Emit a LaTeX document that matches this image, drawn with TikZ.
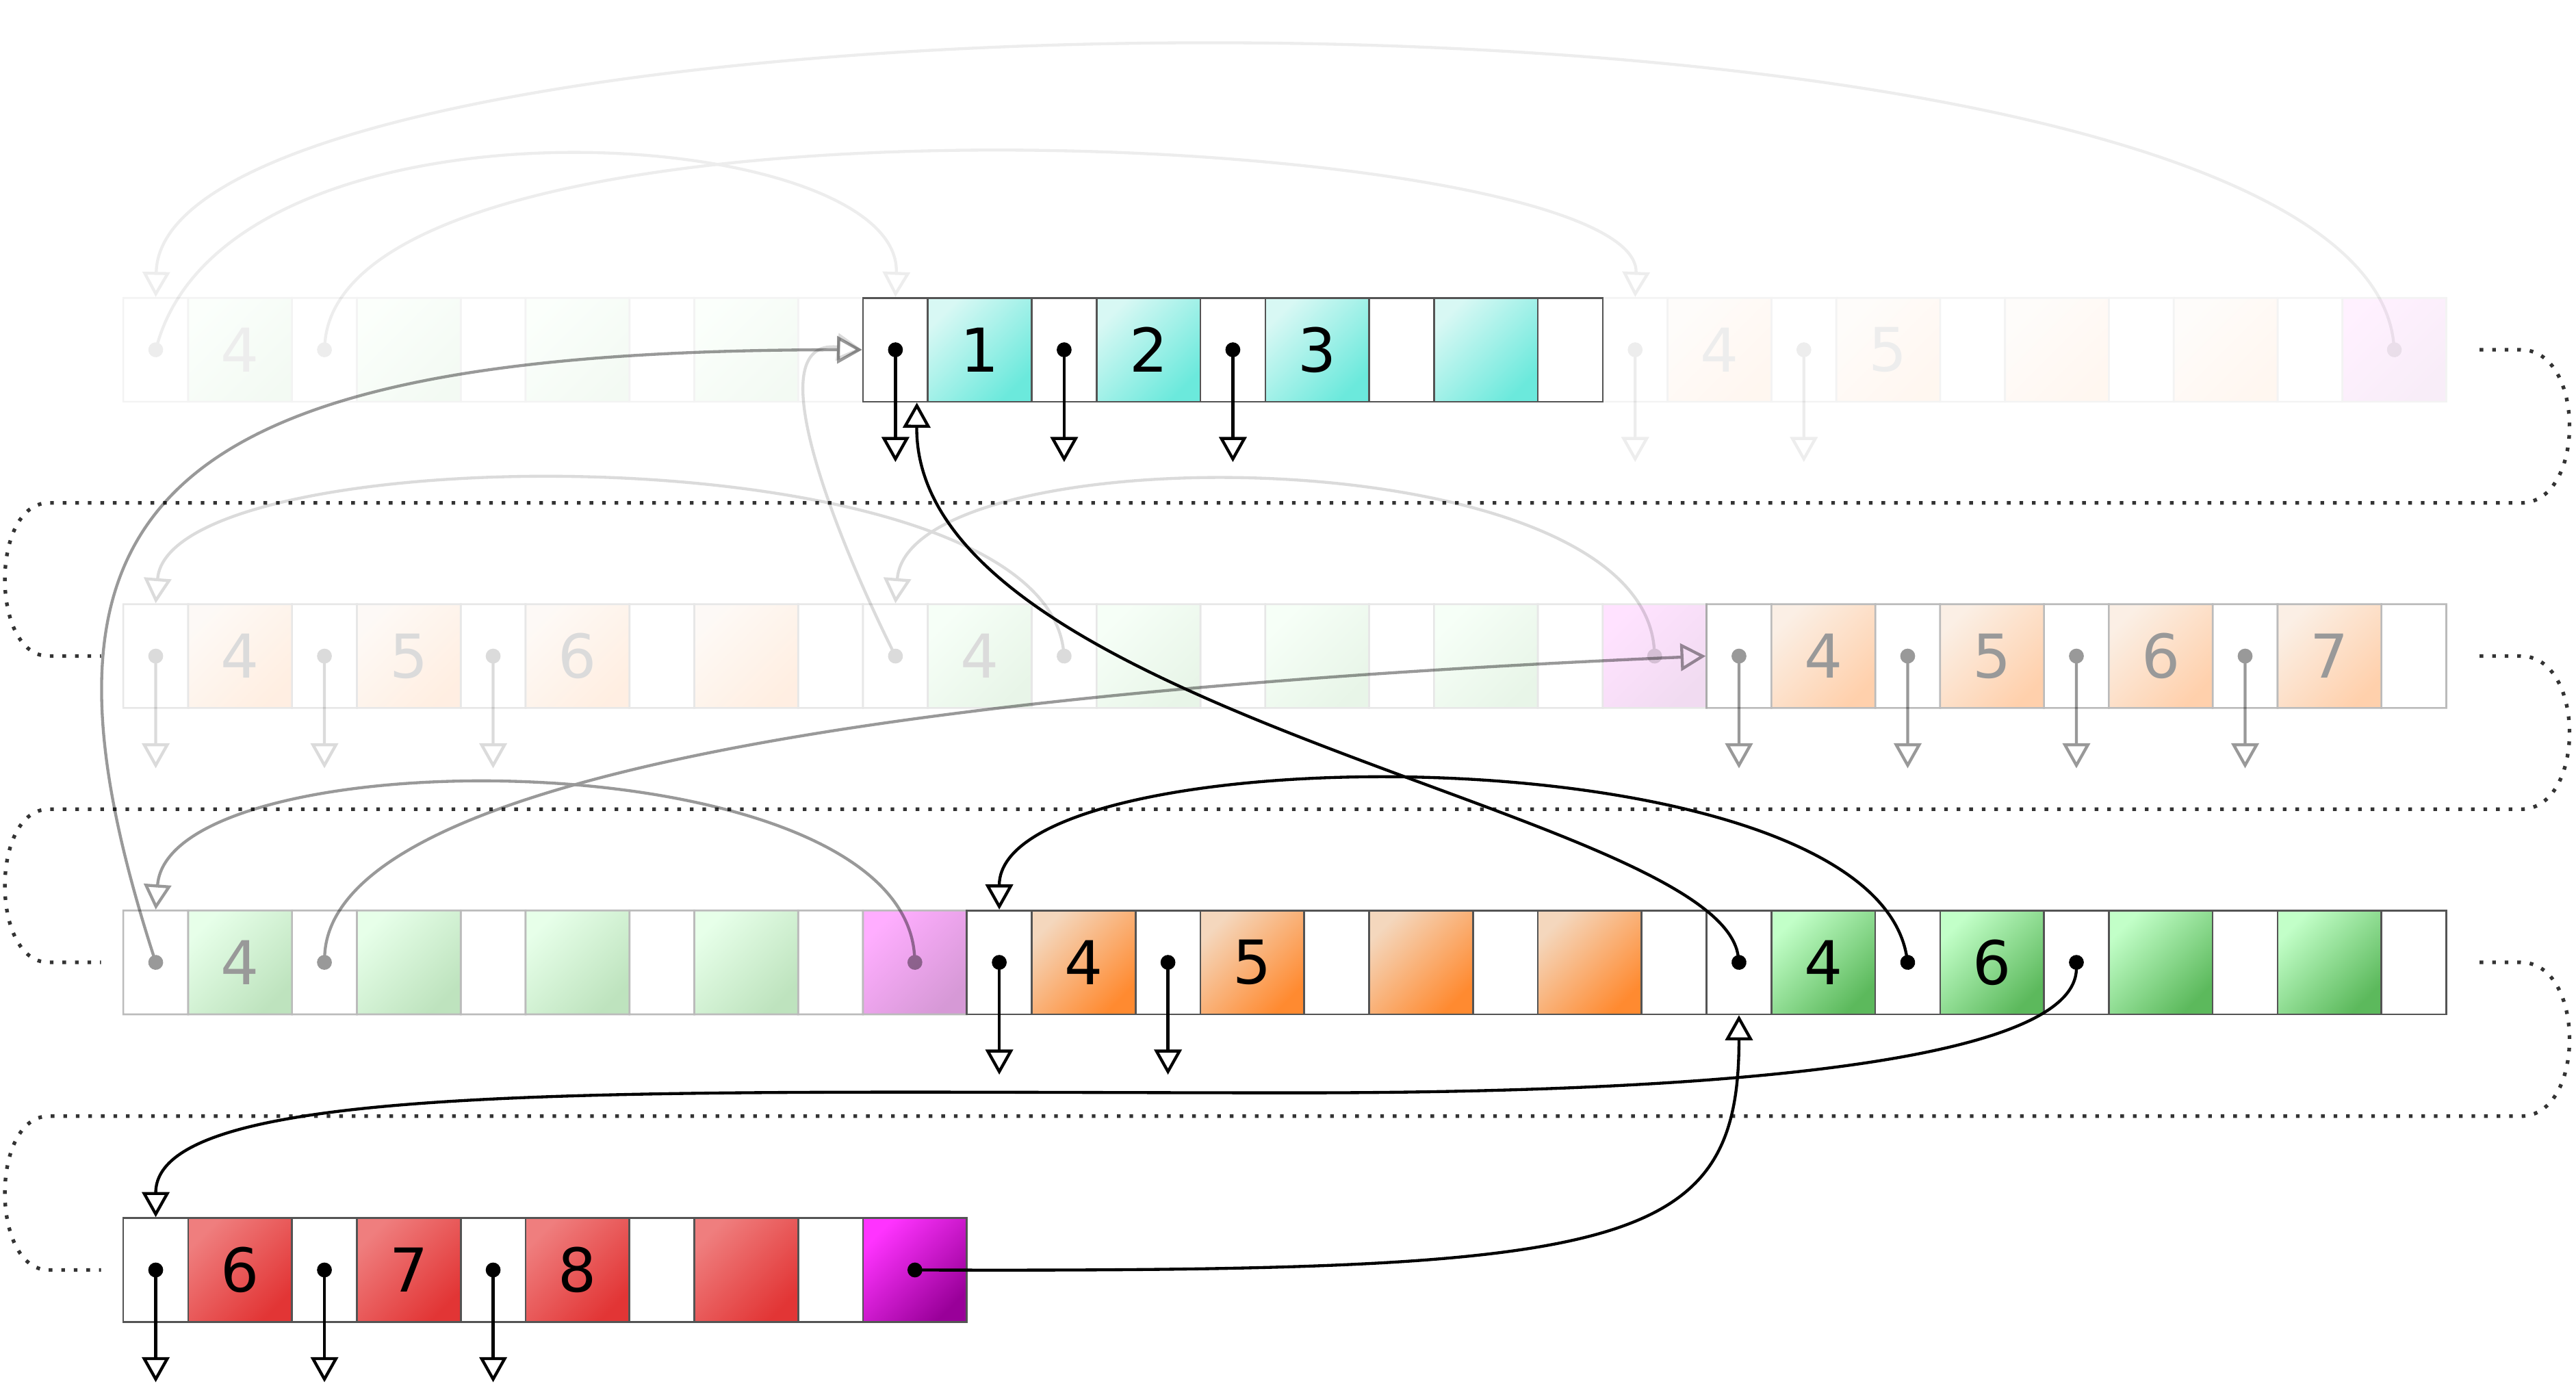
\documentclass[tikz,border=0pt]{standalone}
\usepackage{fontspec}
\setmainfont{DejaVu Sans}
\usetikzlibrary{arrows.meta}

\definecolor{tealA}{HTML}{D8F8F4}
\definecolor{tealB}{HTML}{6BE9DC}
\definecolor{orngA}{HTML}{F4D7BD}
\definecolor{orngB}{HTML}{FF8A30}
\definecolor{grnA}{HTML}{C2FFC8}
\definecolor{grnB}{HTML}{5CB95C}
\definecolor{redA}{HTML}{EF7E7E}
\definecolor{redB}{HTML}{E23535}
\definecolor{magA}{HTML}{FF33FF}
\definecolor{magB}{HTML}{990099}

% one block of cells: name, left x, centre y, colour style, labels
\newcommand{\memblock}[5]{%
  \foreach \k in {0,...,4}
    \node[ptrcell] (#1p\k) at ({#2+0.5+2.6*\k},#3) {};
  \foreach \lab [count=\k] in {#5}
    \node[datacell,#4] (#1d\k) at ({#2+2.6*\k-0.8},#3) {\lab};
}

\begin{document}
\begin{tikzpicture}
[ptrcell/.style={rectangle,draw=black!67,fill=white,line width=0.8pt,minimum width=1cm,minimum height=1.6cm,inner sep=0pt},
 datacell/.style={rectangle,draw=black!67,line width=0.8pt,minimum width=1.6cm,minimum height=1.6cm,inner sep=0pt,font=\fontsize{26.5}{30}\selectfont},
 tealcell/.style={top color=tealA,bottom color=tealB,shading angle=45},
 orngcell/.style={top color=orngA,bottom color=orngB,shading angle=45},
 grncell/.style={top color=grnA,bottom color=grnB,shading angle=45},
 redcell/.style={top color=redA,bottom color=redB,shading angle=45},
 magcell/.style={top color=magA,bottom color=magB,shading angle=45},
 faded/.style={transparency group,opacity=#1},
 ptr/.style={line width=1.3pt,{Circle[length=6.5pt]}-{Triangle[open,length=11pt,width=12pt]},shorten <=-3.25pt},
 wrap/.style={draw=black!80,line width=1.6pt,dash pattern=on 1.6pt off 3.9pt}]
\useasboundingbox (0,0) rectangle (39.70,-21.35);

% cells, oldest copies faded out
\begin{scope}[faded=0.07]
\memblock{G1}{1.9}{-5.39}{grncell}{4,{},{},{}}
\memblock{O1}{24.7}{-5.39}{orngcell}{4,5,{},{}}
\node[datacell,magcell] (M1) at (36.9,-5.39) {};
\end{scope}
\begin{scope}[faded=0.14]
\memblock{O2}{1.9}{-10.11}{orngcell}{4,5,6,{}}
\memblock{G2}{13.3}{-10.11}{grncell}{4,{},{},{}}
\node[datacell,magcell] (M2) at (25.5,-10.11) {};
\end{scope}
\begin{scope}[faded=0.4]
\memblock{O3}{26.3}{-10.11}{orngcell}{4,5,6,7}
\memblock{G3}{1.9}{-14.83}{grncell}{4,{},{},{}}
\node[datacell,magcell] (M3) at (14.1,-14.83) {};
\end{scope}
\memblock{T}{13.3}{-5.39}{tealcell}{1,2,3,{}}
\memblock{O4}{14.9}{-14.83}{orngcell}{4,5,{},{}}
\memblock{G4}{26.3}{-14.83}{grncell}{4,6,{},{}}
\memblock{R}{1.9}{-19.57}{redcell}{6,7,8,{}}
\node[datacell,magcell] (M4) at (14.1,-19.57) {};

% wrap-around of the rows
\draw[wrap] ([xshift=0.5cm]M1.east) -- (38.85,-5.39) .. controls (39.85,-5.39) and (39.85,-7.75) .. (38.85,-7.75)
  -- (0.75,-7.75) .. controls (-0.15,-7.75) and (-0.15,-10.11) .. (0.75,-10.11) -- ([xshift=-0.33cm]O2p0.west);
\draw[wrap] ([xshift=0.5cm]O3p4.east) -- (38.85,-10.11) .. controls (39.85,-10.11) and (39.85,-12.47) .. (38.85,-12.47)
  -- (0.75,-12.47) .. controls (-0.15,-12.47) and (-0.15,-14.83) .. (0.75,-14.83) -- ([xshift=-0.33cm]G3p0.west);
\draw[wrap] ([xshift=0.5cm]G4p4.east) -- (38.85,-14.83) .. controls (39.85,-14.83) and (39.85,-17.2) .. (38.85,-17.2)
  -- (0.75,-17.2) .. controls (-0.15,-17.2) and (-0.15,-19.57) .. (0.75,-19.57) -- ([xshift=-0.33cm]Rp0.west);

% faint pointers
\begin{scope}[faded=0.07]
\draw[ptr] (M1.center) .. controls (36.3,0.9) and (2.5,0.5) .. (G1p0.north);
\draw[ptr] (G1p0.center) .. controls (3.6,-1.2) and (13.9,-1.9) .. (Tp0.north);
\draw[ptr] (G1p1.center) .. controls (5.3,-1.0) and (25.3,-2.0) .. (O1p0.north);
\foreach \k in {0,1} \draw[ptr] (O1p\k.center) -- ++(0,-1.73);
\end{scope}
\begin{scope}[faded=0.14]
\draw[ptr] (G2p1.center) .. controls (16.0,-6.6) and (2.6,-6.7) .. (O2p0.north);
\draw[ptr] (M2.center) .. controls (25.3,-6.68) and (14.0,-6.68) .. (G2p0.north);
\draw[ptr] (G2p0.center) .. controls (13.0,-8.5) and (11.6,-5.2) .. (Tp0.west);
\foreach \k in {0,1,2} \draw[ptr] (O2p\k.center) -- ++(0,-1.73);
\end{scope}

% half faded pointers
\begin{scope}[faded=0.4]
\draw[ptr] (G3p0.center) .. controls (0.2,-8.0) and (2.0,-5.39) .. (Tp0.west);
\draw[ptr] (G3p1.center) .. controls (5.1,-11.8) and (15.0,-10.6) .. (O3p0.west);
\draw[ptr] (M3.center) .. controls (13.9,-11.34) and (2.6,-11.34) .. (G3p0.north);
\foreach \k in {0,...,3} \draw[ptr] (O3p\k.center) -- ++(0,-1.73);
\end{scope}

% live pointers
\foreach \k in {0,1,2} \draw[ptr] (Tp\k.center) -- ++(0,-1.73);
\foreach \k in {0,1} \draw[ptr] (O4p\k.center) -- ++(0,-1.73);
\foreach \k in {0,1,2} \draw[ptr] (Rp\k.center) -- ++(0,-1.73);
\draw[ptr] (G4p0.center) .. controls (26.5,-12.5) and (14.1,-11.0) .. ([xshift=0.33cm]Tp0.south);
\draw[ptr] (G4p1.center) .. controls (28.8,-11.2) and (15.4,-11.3) .. (O4p0.north);
\draw[ptr] (G4p2.center) .. controls (32.0,-16.3) and (27.0,-16.84) .. (20.0,-16.84)
  .. controls (10.0,-16.84) and (2.4,-16.6) .. (Rp0.north);
\draw[ptr] (M4.center) .. controls (25.0,-19.6) and (26.8,-19.3) .. (G4p0.south);
\end{tikzpicture}
\end{document}
